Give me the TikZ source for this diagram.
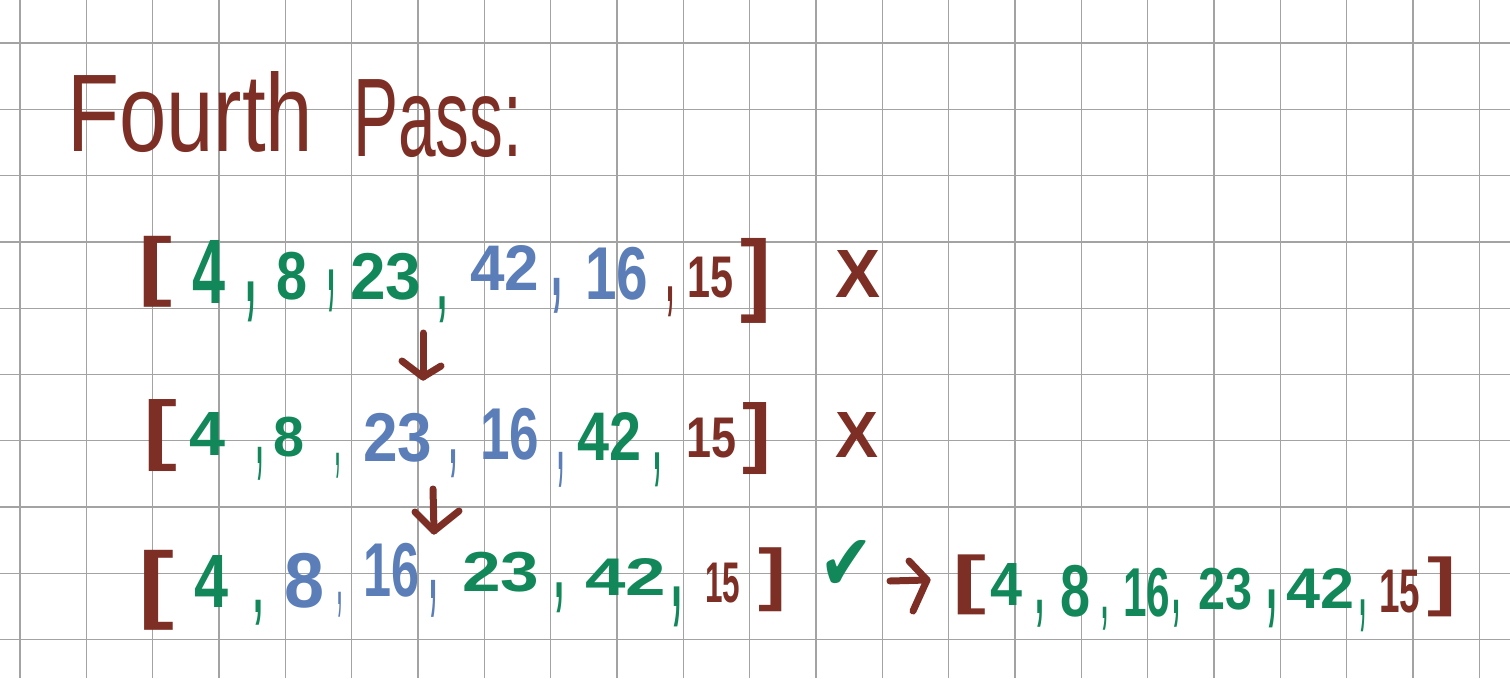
\documentclass[tikz,border=0pt]{standalone}
\usepackage{graphicx}
\usepackage{fontspec}
\usetikzlibrary{calc}
\setmainfont{Liberation Sans}
\newfontfamily\symfont{DejaVu Sans}
\definecolor{pbrown}{HTML}{7E2F25}
\definecolor{pgreen}{HTML}{12885A}
\definecolor{pblue}{HTML}{5B7EB8}
\definecolor{pgrid}{HTML}{A3A3A3}
\newdimen\tkw
\newdimen\tkh
\tikzset{
  tokn/.style={anchor=south west,inner sep=0pt,outer sep=0pt,font=\bfseries},
  titlen/.style={anchor=south west,inner sep=0pt,outer sep=0pt,font=\mdseries},
  gridline/.style={draw=pgrid,line width=1.3pt},
  hand/.style={draw=pbrown,line width=7pt,line cap=round,line join=round}
}
% name, x1, y1, x2, y2, colour, text
\newcommand\tok[7]{\node[tokn,text=#6] (#1) at (#2,#5) {\tkw=\dimexpr #4pt-#2pt\relax\tkh=\dimexpr #5pt-#3pt\relax\resizebox*{\tkw}{\tkh}{#7}};}
\newcommand\ttl[7]{\node[titlen,text=#6] (#1) at (#2,#5) {\tkw=\dimexpr #4pt-#2pt\relax\tkh=\dimexpr #5pt-#3pt\relax\resizebox*{\tkw}{\tkh}{#7}};}
\begin{document}
\begin{tikzpicture}[x=1pt,y=-1pt]
\fill[white] (0,0) rectangle (1510,678);
\useasboundingbox (0,0) rectangle (1510,678);
% grid
\foreach \i in {0,...,22} \draw[gridline] ({20+66.33*\i},0) -- ({20+66.33*\i},678);
\foreach \j in {0,...,9} \draw[gridline] (0,{43+66.3*\j}) -- (1510,{43+66.3*\j});
% title
\ttl{t1}{67}{72}{313}{153}{pbrown}{Fourth}
\ttl{t2}{353}{80}{522}{158}{pbrown}{Pass:}
% row 1
\tok{r1a}{138}{236}{172}{307}{pbrown}{[}
\tok{r1b}{192}{240}{225}{303}{pgreen}{4}
\tok{r1c}{245}{282}{256}{322}{pgreen}{,}
\tok{r1d}{276}{252}{307}{300}{pgreen}{8}
\tok{r1e}{327}{270}{335}{312}{pgreen}{,}
\tok{r1f}{350}{253}{421}{300}{pgreen}{23}
\tok{r1g}{437}{297}{447}{323}{pgreen}{,}
\tok{r1h}{470}{245}{539}{290}{pblue}{42}
\tok{r1i}{551}{278}{562}{313}{pblue}{,}
\tok{r1j}{585}{247}{648}{300}{pblue}{16}
\tok{r1k}{666}{287}{674}{317}{pbrown}{,}
\tok{r1l}{687}{257}{733}{298}{pbrown}{15}
\tok{r1m}{740}{238}{771}{323}{pbrown}{]}
\tok{r1x}{835}{250}{880}{297}{pbrown}{X}
% row 2
\tok{r2a}{143}{400}{177}{472}{pbrown}{[}
\tok{r2b}{189}{412}{225}{455}{pgreen}{4}
\tok{r2c}{256}{447}{263}{480}{pgreen}{,}
\tok{r2d}{273}{417}{304}{457}{pgreen}{8}
\tok{r2e}{335}{453}{340}{478}{pgreen}{,}
\tok{r2f}{363}{413}{432}{462}{pblue}{23}
\tok{r2g}{449}{450}{457}{478}{pblue}{,}
\tok{r2h}{480}{408}{539}{460}{pblue}{16}
\tok{r2i}{557}{452}{564}{487}{pblue}{,}
\tok{r2j}{577}{412}{641}{460}{pgreen}{42}
\tok{r2k}{653}{453}{661}{487}{pgreen}{,}
\tok{r2l}{686}{418}{736}{458}{pbrown}{15}
\tok{r2m}{742}{403}{771}{475}{pbrown}{]}
\tok{r2x}{835}{412}{878}{457}{pbrown}{X}
% row 3
\tok{r3a}{138}{550}{174}{630}{pbrown}{[}
\tok{r3b}{194}{555}{228}{607}{pgreen}{4}
\tok{r3c}{253}{600}{263}{625}{pgreen}{,}
\tok{r3d}{284}{553}{324}{608}{pblue}{8}
\tok{r3e}{337}{592}{342}{617}{pblue}{,}
\tok{r3f}{363}{543}{419}{597}{pblue}{16}
\tok{r3g}{429}{580}{437}{617}{pblue}{,}
\tok{r3h}{462}{552}{539}{592}{pgreen}{23}
\tok{r3i}{554}{583}{564}{613}{pgreen}{,}
\tok{r3j}{585}{558}{666}{595}{pgreen}{42}
\tok{r3k}{671}{587}{682}{627}{pgreen}{,}
\tok{r3l}{705}{563}{740}{603}{pbrown}{15}
\tok{r3m}{758}{548}{786}{612}{pbrown}{]}
\tok{chk}{819}{540}{873}{590}{pgreen}{\symfont ✔}
% final list
\tok{f1}{952}{555}{986}{615}{pbrown}{[}
\tok{f2}{990}{563}{1022}{605}{pgreen}{4}
\tok{f3}{1035}{600}{1044}{627}{pgreen}{,}
\tok{f4}{1060}{565}{1090}{617}{pgreen}{8}
\tok{f5}{1101}{607}{1108}{630}{pgreen}{,}
\tok{f6}{1123}{568}{1170}{617}{pgreen}{16}
\tok{f7}{1172}{600}{1180}{627}{pgreen}{,}
\tok{f8}{1198}{568}{1252}{610}{pgreen}{23}
\tok{f9}{1266}{590}{1277}{628}{pgreen}{,}
\tok{f10}{1286}{568}{1354}{608}{pgreen}{42}
\tok{f11}{1359}{600}{1366}{632}{pgreen}{,}
\tok{f12}{1379}{570}{1420}{613}{pbrown}{15}
\tok{f13}{1427}{557}{1456}{617}{pbrown}{]}
% arrows
\coordinate (a1s) at (423,333);
\coordinate (a1e) at (423,377);
\coordinate (a2s) at (433,489);
\coordinate (a2e) at (434,531);
\coordinate (a3s) at (890,581);
\coordinate (a3e) at (927,580);
\draw[hand] (a1s) -- (a1e);
\draw[hand] ($(a1e)+(-21,-16)$) -- (a1e) -- ($(a1e)+(18,-11)$);
\draw[hand] (a2s) -- (a2e);
\draw[hand] ($(a2e)+(-19,-19)$) -- (a2e) -- ($(a2e)+(25,-20)$);
\draw[hand] (a3s) -- (a3e);
\draw[hand] ($(a3e)+(-18,-19)$) -- (a3e) -- ($(a3e)+(-14,31)$);
\end{tikzpicture}
\end{document}
